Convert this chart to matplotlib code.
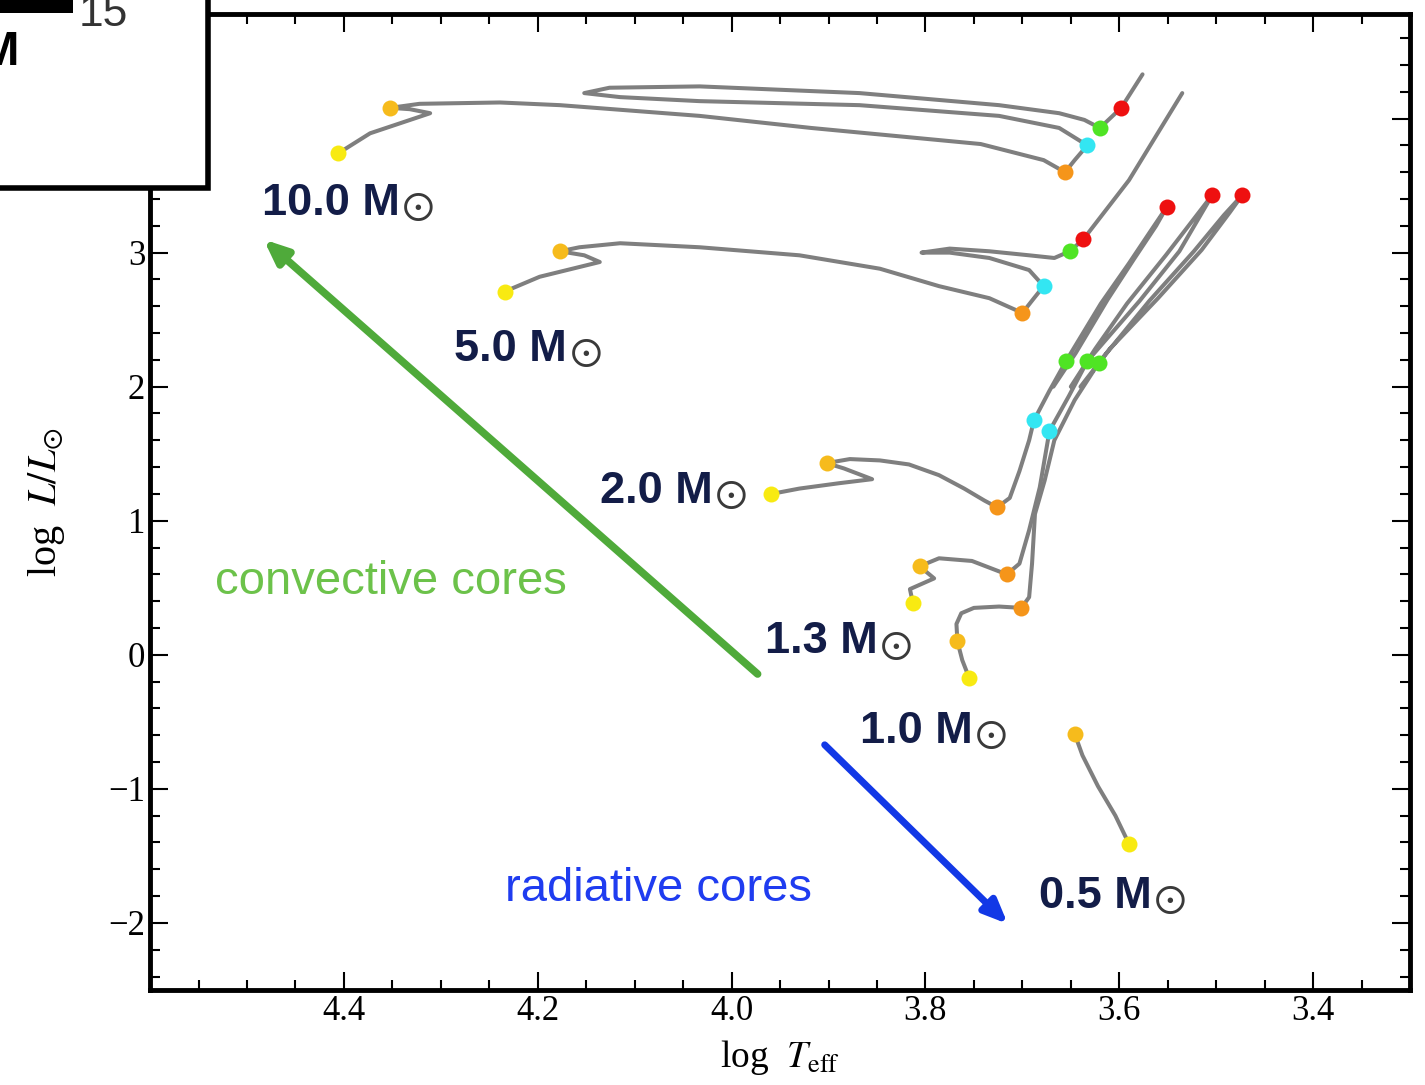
import matplotlib
matplotlib.use("Agg")
import matplotlib.pyplot as plt
import numpy as np
from matplotlib.patches import Rectangle
from matplotlib.ticker import MultipleLocator

plt.rcParams['font.family'] = ['Liberation Serif', 'DejaVu Serif']
plt.rcParams['mathtext.fontset'] = 'stix'

nan = np.nan

# evolutionary tracks, log Teff / log L
t_05 = [3.590, 3.604, 3.622, 3.638, 3.646]
l_05 = [-1.41, -1.20, -0.98, -0.75, -0.59]

t_10 = [3.755, 3.762, 3.767, 3.768, 3.763, 3.750, 3.724, 3.701, 3.693, 3.690, 3.687,
        3.677, 3.667, 3.646, 3.621, 3.569, 3.523, 3.492, 3.473,
        nan, 3.640, 3.610, 3.560, 3.515, 3.486, 3.473]
l_10 = [-0.17, -0.04, 0.10, 0.23, 0.31, 0.35, 0.36, 0.35, 0.43, 0.68, 1.05,
        1.30, 1.60, 1.90, 2.18, 2.64, 3.01, 3.28, 3.43,
        nan, 2.00, 2.28, 2.66, 3.02, 3.30, 3.43]

t_13 = [3.813, 3.816, 3.791, 3.806, 3.786, 3.752, 3.734, 3.716, 3.703, 3.693, 3.682,
        3.672, 3.652, 3.633, 3.579, 3.538, 3.504,
        nan, 3.650, 3.625, 3.592, 3.552, 3.520, 3.504]
l_13 = [0.39, 0.49, 0.57, 0.66, 0.72, 0.70, 0.65, 0.60, 0.68, 0.93, 1.25,
        1.67, 1.93, 2.19, 2.64, 3.01, 3.43,
        nan, 2.00, 2.28, 2.62, 2.98, 3.28, 3.43]

t_20 = [3.959, 3.930, 3.889, 3.855, 3.884, 3.902, 3.878, 3.847, 3.817, 3.786, 3.760,
        3.739, 3.726, 3.713, 3.703, 3.693, 3.688, 3.672, 3.655, 3.619, 3.590, 3.565, 3.551,
        nan, 3.668, 3.645, 3.612, 3.585, 3.562, 3.551]
l_20 = [1.20, 1.24, 1.28, 1.31, 1.39, 1.43, 1.46, 1.45, 1.42, 1.34, 1.24,
        1.15, 1.10, 1.17, 1.37, 1.60, 1.75, 1.97, 2.19, 2.62, 2.92, 3.19, 3.34,
        nan, 2.00, 2.25, 2.65, 2.95, 3.20, 3.34]

t_50 = [4.234, 4.198, 4.136, 4.152, 4.177, 4.157, 4.115, 4.033, 3.930, 3.847, 3.786,
        3.734, 3.700, 3.688, 3.678, 3.693, 3.734, 3.775, 3.804, 3.775, 3.734, 3.693,
        3.667, 3.651, 3.637, 3.590, 3.535]
l_50 = [2.71, 2.82, 2.93, 2.98, 3.01, 3.04, 3.07, 3.04, 2.98, 2.88, 2.75,
        2.66, 2.55, 2.66, 2.75, 2.87, 2.96, 3.00, 3.00, 3.03, 3.01, 2.98,
        2.96, 3.01, 3.10, 3.54, 4.19]

t_100 = [4.406, 4.373, 4.311, 4.332, 4.352, 4.322, 4.239, 4.177, 4.033, 3.918, 3.743,
         3.678, 3.656, 3.646, 3.633, 3.662, 3.724, 3.868, 4.033, 4.115, 4.152, 4.126,
         4.033, 3.868, 3.724, 3.662, 3.636, 3.620, 3.598, 3.576]
l_100 = [3.74, 3.89, 4.04, 4.07, 4.08, 4.11, 4.12, 4.10, 4.02, 3.93, 3.81,
         3.69, 3.60, 3.69, 3.80, 3.93, 4.02, 4.10, 4.13, 4.16, 4.19, 4.23,
         4.24, 4.19, 4.10, 4.04, 3.99, 3.93, 4.08, 4.33]

# marked phases
zams_t = [3.590, 3.755, 3.813, 3.959, 4.234, 4.406]
zams_l = [-1.41, -0.17, 0.39, 1.20, 2.71, 3.74]
tams_t = [3.646, 3.767, 3.806, 3.902, 4.177, 4.352]
tams_l = [-0.59, 0.10, 0.66, 1.43, 3.01, 4.08]
sgb_t = [3.701, 3.716, 3.726, 3.700, 3.656]
sgb_l = [0.35, 0.60, 1.10, 2.55, 3.60]
cyan_t = [3.672, 3.688, 3.678, 3.633]
cyan_l = [1.67, 1.75, 2.75, 3.80]
green_t = [3.621, 3.633, 3.655, 3.651, 3.620]
green_l = [2.18, 2.19, 2.19, 3.01, 3.93]
red_t = [3.473, 3.504, 3.551, 3.637, 3.598]
red_l = [3.43, 3.43, 3.34, 3.10, 4.08]

labels = ["10.0 M", "5.0 M", "2.0 M", "1.3 M", "1.0 M", "0.5 M"]

fig = plt.figure(figsize=(14.25, 10.85), dpi=100)
ax = fig.add_axes([0.1053, 0.0876, 0.8842, 0.8995])

grey = '#7f7f7f'
for t, l in [(t_05, l_05), (t_10, l_10), (t_13, l_13), (t_20, l_20), (t_50, l_50), (t_100, l_100)]:
    ax.plot(t, l, color=grey, lw=2.9, solid_capstyle='round', solid_joinstyle='round', zorder=2)

ms = 11.5
ax.plot(zams_t, zams_l, 'o', ms=ms, color='#f8ea12', mec='none', zorder=3)
ax.plot(tams_t, tams_l, 'o', ms=ms, color='#f6bb1c', mec='none', zorder=3)
ax.plot(sgb_t, sgb_l, 'o', ms=ms, color='#f5951a', mec='none', zorder=3)
ax.plot(cyan_t, cyan_l, 'o', ms=ms, color='#33e6f2', mec='none', zorder=3)
ax.plot(green_t, green_l, 'o', ms=ms, color='#4fe424', mec='none', zorder=3)
ax.plot(red_t, red_l, 'o', ms=ms, color='#ee1010', mec='none', zorder=3)

# mass labels, sun symbol drawn thinner after the bold text
lab_pos = [(4.485, 3.37), (4.286, 2.28), (4.136, 1.22), (3.966, 0.10), (3.868, -0.57), (3.683, -1.80)]
for s, (x, y) in zip(labels, lab_pos):
    txt = ax.text(x, y, s, fontsize=32.5, fontweight='bold', color='#131d48',
                  family='Liberation Sans', ha='left', va='center', zorder=4)
    ax.annotate(r"$\odot$", xy=(1.0, 0.38), xycoords=txt, xytext=(1, 0), textcoords='offset points',
                fontsize=31, color='#3a3a3a', ha='left', va='center', zorder=4)

ax.text(4.533, 0.54, "convective cores", fontsize=34, color='#6cc24a',
        family='Liberation Sans', ha='left', va='center')
ax.text(4.234, -1.75, "radiative cores", fontsize=34, color='#1f3cf0',
        family='Liberation Sans', ha='left', va='center')

ax.annotate("", xy=(4.485, 3.112), xytext=(3.971, -0.157),
            arrowprops=dict(arrowstyle='-|>,head_length=1.4,head_width=0.6', color='#4faa3a', lw=5.5))
ax.annotate("", xy=(3.713, -2.022), xytext=(3.906, -0.657),
            arrowprops=dict(arrowstyle='-|>,head_length=1.4,head_width=0.6', color='#1238e6', lw=5))

ax.set_xlim(4.6, 3.3)
ax.set_ylim(-2.5, 4.78)
ax.set_xticks([4.4, 4.2, 4.0, 3.8, 3.6, 3.4])
ax.xaxis.set_minor_locator(MultipleLocator(0.05))
ax.yaxis.set_major_locator(MultipleLocator(1))
ax.yaxis.set_minor_locator(MultipleLocator(0.2))
ax.tick_params(which='both', direction='in', top=True, right=True, width=1.5, labelsize=25)
ax.tick_params(which='major', length=13)
ax.tick_params(which='minor', length=7)
for sp in ax.spines.values():
    sp.set_linewidth(3.5)

ax.set_xlabel(r"log  $T_{\rm eff}$", fontsize=27, labelpad=7)
ax.set_ylabel(r"log  $L/L_{\odot}$", fontsize=29, labelpad=30)

# overlapping box in the top-left corner
fig.add_artist(Rectangle((-0.01, 1 - 188 / 1085), 0.01 + 208 / 1425, 188 / 1085 + 0.01,
                         transform=fig.transFigure, facecolor='white', edgecolor='black',
                         lw=4, zorder=10))
fig.add_artist(Rectangle((0, 1 - 13 / 1085), 73 / 1425, 14 / 1085,
                         transform=fig.transFigure, facecolor='black', edgecolor='none', zorder=11))
fig.text(79 / 1425, 1 - 26 / 1085, "15", fontsize=32, color='#333333',
         family='Liberation Sans', ha='left', va='baseline', zorder=12)
fig.text(-21 / 1425, 1 - 65 / 1085, "M", fontsize=35, fontweight='bold', color='black',
         family='Liberation Sans', ha='left', va='baseline', zorder=12)

fig.savefig("out.png", dpi=100)
